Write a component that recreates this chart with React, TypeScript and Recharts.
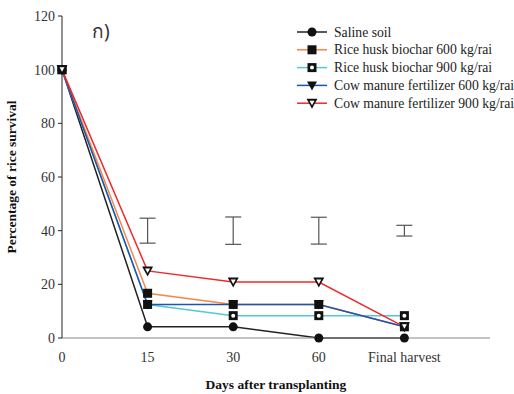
import React from 'react';
import { LineChart, Line, XAxis, YAxis, ErrorBar } from 'recharts';

const xIndex = [0, 1, 2, 3, 4];
const xLabels = ['0', '15', '30', '60', 'Final harvest'];
const salineSoil = [100, 4.17, 4.17, 0, 0];
const riceHusk600 = [100, 16.67, 12.5, 12.5, 4.17];
const riceHusk900 = [100, 12.5, 8.33, 8.33, 8.33];
const cowManure600 = [100, 12.5, 12.5, 12.5, 4.17];
const cowManure900 = [100, 25, 20.83, 20.83, 4.17];
const errX = [1, 2, 3, 4];
const errMean = [40, 40, 40, 40];
const errHalf = [4.65, 5.1, 5, 2];
const yTicks = [0, 20, 40, 60, 80, 100, 120];

const data = xIndex.map((x, i) => ({
  x,
  saline: salineSoil[i],
  rh600: riceHusk600[i],
  rh900: riceHusk900[i],
  cm600: cowManure600[i],
  cm900: cowManure900[i],
}));
const errData = errX.map((x, i) => ({ x, mean: errMean[i], err: errHalf[i] }));

type Kind = 'circle' | 'square' | 'openSquare' | 'tri' | 'openTri';

function Marker({ cx, cy, kind }: { cx: number; cy: number; kind: Kind }) {
  if (cx == null || cy == null) return null;
  switch (kind) {
    case 'circle':
      return <circle cx={cx} cy={cy} r={4.5} fill="#111" />;
    case 'square':
      return <rect x={cx - 4.5} y={cy - 4.5} width={9} height={9} fill="#111" />;
    case 'openSquare':
      return (
        <g>
          <rect x={cx - 4.5} y={cy - 4.5} width={9} height={9} fill="#111" />
          <circle cx={cx} cy={cy} r={2} fill="#fff" />
        </g>
      );
    case 'tri':
      return <path d={`M${cx - 5},${cy - 4} L${cx + 5},${cy - 4} L${cx},${cy + 5} Z`} fill="#111" />;
    case 'openTri':
      return (
        <g>
          <path d={`M${cx - 5.5},${cy - 4.5} L${cx + 5.5},${cy - 4.5} L${cx},${cy + 5.5} Z`} fill="#111" />
          <path d={`M${cx - 2.5},${cy - 2.5} L${cx + 2.5},${cy - 2.5} L${cx},${cy + 2} Z`} fill="#fff" />
        </g>
      );
  }
  return null;
}

const series: { key: string; name: string; color: string; kind: Kind }[] = [
  { key: 'saline', name: 'Saline soil', color: '#222222', kind: 'circle' },
  { key: 'rh600', name: 'Rice husk biochar 600 kg/rai', color: '#f7864a', kind: 'square' },
  { key: 'rh900', name: 'Rice husk biochar 900 kg/rai', color: '#55c8d8', kind: 'openSquare' },
  { key: 'cm600', name: 'Cow manure fertilizer 600 kg/rai', color: '#1c55b0', kind: 'tri' },
  { key: 'cm900', name: 'Cow manure fertilizer 900 kg/rai', color: '#ee2b2b', kind: 'openTri' },
];

const drawOrder = ['saline', 'rh900', 'rh600', 'cm600', 'cm900'];

const font = '"Liberation Serif", "Times New Roman", serif';

export default function App() {
  return (
    <div style={{ position: 'absolute', left: 0, top: 0, width: 514, height: 394, background: '#fff', fontFamily: font }}>
      <LineChart
        width={514}
        height={394}
        data={data}
        margin={{ top: 16, right: 24, left: 0, bottom: 0 }}
      >
        <XAxis
          dataKey="x"
          type="number"
          domain={[0, 5]}
          ticks={xIndex}
          tickFormatter={(v: number) => xLabels[v]}
          height={56}
          stroke="#888"
          tickLine={false}
          tick={{ fill: '#333', fontSize: 14, fontFamily: font, style: { fontFamily: font } }}
          tickMargin={8}
        />
        <YAxis
          type="number"
          domain={[0, 120]}
          ticks={yTicks}
          width={62}
          stroke="#222"
          tickSize={4}
          tick={{ fill: '#333', fontSize: 14, fontFamily: font, style: { fontFamily: font } }}
          tickMargin={3}
        />
        <Line
          data={errData}
          dataKey="mean"
          stroke="none"
          dot={false}
          activeDot={false}
          isAnimationActive={false}
          legendType="none"
        >
          <ErrorBar dataKey="err" width={8} stroke="#555" strokeWidth={1.2} direction="y" />
        </Line>
        {drawOrder.map((k) => {
          const s = series.find((q) => q.key === k)!;
          return (
            <Line
              key={s.key}
              dataKey={s.key}
              name={s.name}
              stroke={s.color}
              strokeWidth={1.5}
              isAnimationActive={false}
              dot={(p: any) => <Marker key={`${s.key}-${p.index}`} cx={p.cx} cy={p.cy} kind={s.kind} />}
              activeDot={false}
            />
          );
        })}
      </LineChart>
      <svg width={514} height={394} style={{ position: 'absolute', left: 0, top: 0, pointerEvents: 'none' }}>
        {series.map((s, i) => {
          const y = 32 + i * 17.8;
          return (
            <g key={s.key}>
              <line x1={297} x2={327} y1={y} y2={y} stroke={s.color} strokeWidth={1.5} />
              <Marker cx={312} cy={y} kind={s.kind} />
              <text x={334} y={y + 4.5} fontFamily={font} style={{ fontFamily: font }} fontSize={13.7} fill="#222">
                {s.name}
              </text>
            </g>
          );
        })}
        <text x={92} y={38} fontSize={19} fill="#333" fontFamily='"Noto Sans", sans-serif'>
          ก)
        </text>
        <text
          x={16}
          y={177}
          transform="rotate(-90 16 177)"
          textAnchor="middle"
          fontWeight="bold"
          fontSize={13.5}
          fill="#111"
          fontFamily={font}
        >
          Percentage of rice survival
        </text>
        <text x={276} y={389} textAnchor="middle" fontWeight="bold" fontSize={13.5} fill="#111" fontFamily={font}>
          Days after transplanting
        </text>
      </svg>
    </div>
  );
}
